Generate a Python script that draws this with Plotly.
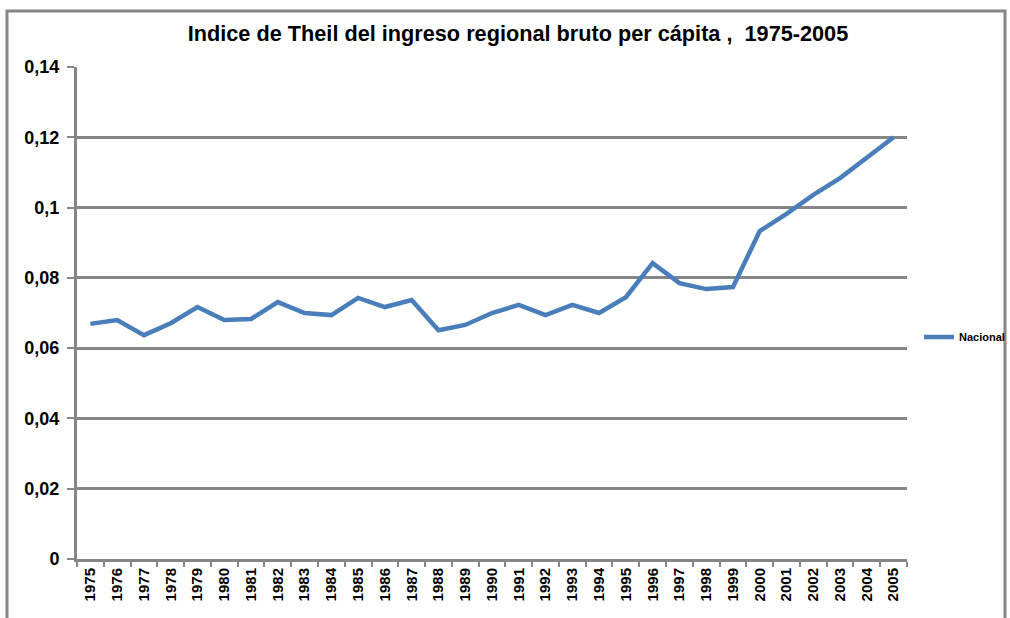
import plotly.graph_objects as go

years = [str(y) for y in range(1975, 2006)]
nacional = [0.0669, 0.0680, 0.0637, 0.0671, 0.0717, 0.0680, 0.0683, 0.0731, 0.0700, 0.0694,
            0.0743, 0.0717, 0.0737, 0.0651, 0.0666, 0.0700, 0.0723, 0.0694, 0.0723, 0.0700,
            0.0745, 0.0842, 0.0785, 0.0768, 0.0774, 0.0933, 0.0982, 0.1036, 0.1084, 0.1141, 0.1200]
y_ticks = [0, 0.02, 0.04, 0.06, 0.08, 0.10, 0.12, 0.14]
y_labels = ["0", "0,02", "0,04", "0,06", "0,08", "0,1", "0,12", "0,14"]

fig = go.Figure()
fig.add_trace(go.Scatter(x=years, y=nacional, mode="lines", name="<b>Nacional</b>",
                         line=dict(color="#4a7ebb", width=4.5)))

L, R, T, B = 77, 103, 67, 59
W, H = 1010, 618
pw, ph = W - L - R, H - T - B
FONT = "Liberation Sans, Arial, sans-serif"

fig.update_layout(
    width=W, height=H,
    margin=dict(l=L, r=R, t=T, b=B, autoexpand=False),
    paper_bgcolor="white", plot_bgcolor="white",
    font=dict(family=FONT, color="black"),
    title=dict(text="<b>Indice de Theil del ingreso regional bruto per cápita ,  1975-2005</b>",
               xref="container", yref="container",
               x=518 / W, xanchor="center", y=1 - 33 / H, yanchor="middle",
               font=dict(size=21.7)),
    showlegend=True,
    legend=dict(xref="container", yref="container",
                x=919 / W, y=1 - 337 / H, xanchor="left", yanchor="middle",
                font=dict(size=11), bgcolor="rgba(0,0,0,0)", itemwidth=30,
                borderwidth=0),
    xaxis=dict(type="category", range=[-0.5, 30.5], showgrid=False, automargin=False,
               showline=True, linecolor="#868686", linewidth=3,
               ticks="outside", tickson="boundaries", ticklen=5, tickcolor="#868686", tickwidth=2,
               tickangle=-90, tickfont=dict(size=15),
               tickvals=years, ticktext=["<b>%s</b>" % y for y in years]),
    yaxis=dict(range=[0, 0.14], tickvals=y_ticks, ticktext=["<b>%s</b>" % t for t in y_labels],
               automargin=False,
               showgrid=True, gridcolor="#868686", gridwidth=3,
               showline=True, linecolor="#868686", linewidth=3,
               ticks="outside", ticklen=7, tickcolor="#868686", tickwidth=2,
               ticklabelstandoff=4,
               tickfont=dict(size=18), zeroline=False),
)

fig.add_shape(type="rect", xref="paper", yref="paper",
              x0=(7 - L) / pw, x1=(1005 - L) / pw,
              y0=-(625 - (H - B)) / ph, y1=1 + (T - 11) / ph,
              line=dict(color="#868686", width=3), fillcolor="rgba(0,0,0,0)", layer="below")

fig.write_html("out.html", config={"displayModeBar": False},
               post_script="document.body.style.margin='0';document.body.style.overflow='hidden';")
